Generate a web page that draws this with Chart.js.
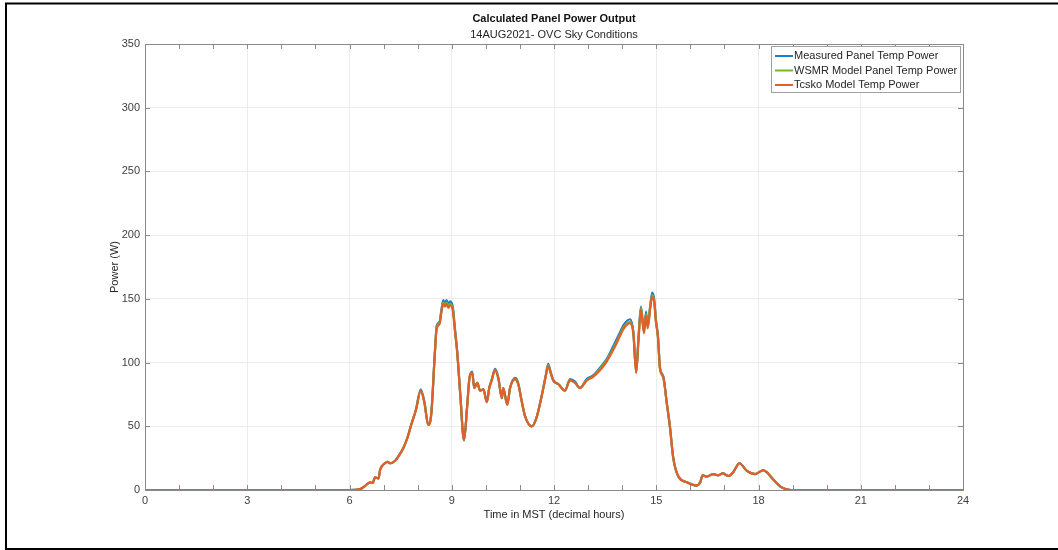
<!DOCTYPE html>
<html>
<head>
<meta charset="utf-8">
<title>Calculated Panel Power Output</title>
<script src="https://cdn.jsdelivr.net/npm/chart.js@4.4.1/dist/chart.umd.min.js"></script>
<style>
  body { margin: 0; background: #fff; }
  canvas { display: block; }
</style>
</head>
<body>
<canvas id="powerChart" width="1058" height="550"></canvas>
<script>
const ctx = document.getElementById("powerChart");

// time in MST (decimal hours)
const hours = [
  0, 6.0, 6.3, 6.45, 6.6, 6.68, 6.75, 6.85, 6.9, 7.04,
  7.12, 7.19, 7.34, 7.45, 7.58, 7.7, 7.82, 7.95, 8.09, 8.2,
  8.31, 8.4, 8.5, 8.56, 8.64, 8.7, 8.75, 8.8, 8.85, 8.9,
  8.95, 9.03, 9.1, 9.16, 9.25, 9.36, 9.45, 9.52, 9.6, 9.66,
  9.75, 9.83, 9.93, 10.03, 10.1, 10.17, 10.27, 10.37, 10.47, 10.51,
  10.63, 10.71, 10.86, 10.95, 11.05, 11.15, 11.35, 11.49, 11.64, 11.75,
  11.83, 11.9, 11.98, 12.13, 12.32, 12.47, 12.62, 12.76, 12.96, 13.15,
  13.35, 13.55, 13.74, 13.94, 14.03, 14.15, 14.23, 14.33, 14.41, 14.48,
  14.55, 14.64, 14.7, 14.75, 14.82, 14.88, 14.94, 14.99, 15.05, 15.11,
  15.21, 15.31, 15.4, 15.5, 15.65, 15.9, 16.19, 16.29, 16.36, 16.48,
  16.67, 16.82, 16.95, 17.12, 17.26, 17.44, 17.66, 17.9, 18.14, 18.24,
  18.44, 18.68, 18.83, 18.95, 24
];

// power (W)
const measured = [
  0, 0, 0.5, 3, 6, 5.5, 10, 9, 16, 21,
  22, 21, 23, 27, 33, 41, 52, 63, 79, 69,
  51, 60, 106, 129, 132, 142, 149, 147, 149, 146,
  148, 144, 125, 109, 75, 39, 65, 88, 93, 80,
  84, 78, 79, 69, 80, 86, 95, 88, 72, 80,
  67, 80, 88, 84, 70, 58, 50, 57, 74, 89,
  99, 93, 86, 83, 78, 87, 85, 80, 87, 90,
  96, 103, 113, 124, 129, 133, 134, 124, 93, 120,
  144, 125, 140, 129, 144, 155, 150, 134, 121, 96,
  89, 68, 50, 25, 10.5, 6, 3.5, 6, 11.5, 10.5,
  12.5, 11.5, 13, 11, 14, 21, 15, 12.5, 15.5, 14,
  8, 2, 0.5, 0, 0
];
const wsmrModel = [
  0, 0, 0.5, 3, 6, 5.5, 10, 9, 16, 21,
  22, 21, 23, 27, 33, 41, 52, 63, 78, 68,
  51, 60, 105, 128, 131, 141, 147, 145, 147, 144,
  146, 142, 124, 108, 75, 39, 65, 88, 92, 80,
  84, 78, 79, 69, 80, 86, 94, 87, 72, 80,
  67, 80, 87, 83, 70, 58, 50, 57, 74, 88,
  98, 92, 86, 83, 78, 86, 84, 80, 86, 89,
  95, 102, 111, 122, 127, 131, 132, 123, 92, 119,
  143, 124, 138, 128, 143, 153, 148, 133, 120, 95,
  88, 68, 50, 25, 10.5, 6, 3.5, 6, 11.5, 10.5,
  12.5, 11.5, 13, 11, 14, 21, 15, 12.5, 15.5, 14,
  8, 2, 0.5, 0, 0
];
const tcskoModel = [
  0, 0, 0.5, 3, 6, 5.5, 10, 9, 16, 21,
  22, 21, 23, 27, 33, 41, 52, 63, 78, 68,
  51, 60, 105, 127, 130, 140, 146, 144, 146, 143,
  145, 141, 123, 108, 75, 39, 65, 88, 92, 80,
  84, 78, 79, 69, 80, 86, 94, 87, 72, 80,
  67, 80, 87, 83, 70, 58, 50, 57, 74, 88,
  97, 92, 86, 83, 78, 86, 84, 80, 86, 89,
  94, 101, 110, 121, 126, 130, 131, 122, 92, 118,
  142, 123, 137, 127, 142, 152, 147, 132, 120, 95,
  88, 68, 50, 25, 10.5, 6, 3.5, 6, 11.5, 10.5,
  12.5, 11.5, 13, 11, 14, 21, 15, 12.5, 15.5, 14,
  8, 2, 0.5, 0, 0
];

const seriesNames = ['Measured Panel Temp Power', 'WSMR Model Panel Temp Power', 'Tcsko Model Temp Power'];
const seriesColors = ['rgb(28, 128, 200)', 'rgb(119, 180, 48)', 'rgb(226, 94, 42)'];
const xTicks = [0, 3, 6, 9, 12, 15, 18, 21, 24];
const yTicks = [0, 50, 100, 150, 200, 250, 300, 350];

function points(vals) {
  return hours.map((h, i) => ({ x: h, y: vals[i] }));
}

const FONT = "'Liberation Sans', Arial, Helvetica, sans-serif";

// frame, matlab style box with inward ticks, legend and titles
const matlabLook = {
  id: 'matlabLook',
  beforeDraw(chart) {
    const c = chart.ctx;
    c.save();
    c.fillStyle = '#fff';
    c.fillRect(0, 0, chart.width, chart.height);
    c.strokeStyle = '#000';
    c.lineWidth = 2;
    c.beginPath();
    c.moveTo(6, 550);
    c.lineTo(6, 3.5);
    c.lineTo(1058, 3.5);
    c.moveTo(6, 549);
    c.lineTo(1058, 549);
    c.stroke();
    c.restore();
  },
  afterDatasetsDraw(chart) {
    const c = chart.ctx;
    const a = chart.chartArea;
    const xs = chart.scales.x, ys = chart.scales.y;
    c.save();
    c.strokeStyle = '#8a8a8a';
    c.lineWidth = 1;
    c.strokeRect(Math.round(a.left) + 0.5, Math.round(a.top) + 0.5, Math.round(a.right - a.left), Math.round(a.bottom - a.top));
    c.beginPath();
    for (let h = 0; h <= 24; h++) {
      const px = Math.round(xs.getPixelForValue(h)) + 0.5;
      c.moveTo(px, a.bottom); c.lineTo(px, a.bottom - 5);
      c.moveTo(px, a.top); c.lineTo(px, a.top + 5);
    }
    yTicks.forEach(v => {
      const py = Math.round(ys.getPixelForValue(v)) + 0.5;
      c.moveTo(a.left, py); c.lineTo(a.left + 5, py);
      c.moveTo(a.right, py); c.lineTo(a.right - 5, py);
    });
    c.stroke();

    // legend box
    const lx = a.right - 192, ly = a.top + 2;
    c.fillStyle = '#fff';
    c.fillRect(lx, ly, 189, 46);
    c.strokeStyle = '#a0a0a0';
    c.strokeRect(lx + 0.5, ly + 0.5, 189, 46);
    c.font = '11px ' + FONT;
    c.textBaseline = 'middle';
    c.textAlign = 'left';
    seriesNames.forEach((name, i) => {
      const yy = ly + 10 + i * 14.5;
      c.strokeStyle = seriesColors[i];
      c.lineWidth = 2;
      c.beginPath();
      c.moveTo(lx + 4, yy); c.lineTo(lx + 22, yy);
      c.stroke();
      c.fillStyle = '#262626';
      c.fillText(name, lx + 23, yy);
    });

    // titles
    const cx = (a.left + a.right) / 2;
    c.textAlign = 'center';
    c.fillStyle = '#111';
    c.font = 'bold 11px ' + FONT;
    c.fillText('Calculated Panel Power Output', cx, 19);
    c.font = '11px ' + FONT;
    c.fillStyle = '#262626';
    c.fillText('14AUG2021- OVC Sky Conditions', cx, 35);
    c.restore();
  }
};

new Chart(ctx, {
  type: 'line',
  data: {
    datasets: [
      { label: seriesNames[0], data: points(measured), borderColor: seriesColors[0], order: 3 },
      { label: seriesNames[1], data: points(wsmrModel), borderColor: seriesColors[1], order: 2 },
      { label: seriesNames[2], data: points(tcskoModel), borderColor: seriesColors[2], order: 1 }
    ]
  },
  options: {
    responsive: false,
    animation: false,
    devicePixelRatio: 1,
    elements: {
      line: { borderWidth: 2.2, cubicInterpolationMode: 'monotone', borderCapStyle: 'round', borderJoinStyle: 'round' },
      point: { radius: 0 }
    },
    layout: { padding: { left: 0, right: 95, top: 44, bottom: 0 } },
    plugins: {
      legend: { display: false },
      tooltip: { enabled: false }
    },
    scales: {
      x: {
        type: 'linear',
        min: 0,
        max: 24,
        afterFit: s => { s.height = 60; },
        afterBuildTicks: s => { s.ticks = xTicks.map(v => ({ value: v })); },
        ticks: { color: '#404040', padding: 4, font: { size: 11, family: FONT } },
        grid: { color: '#ececec', drawTicks: false },
        border: { display: false },
        title: {
          display: true,
          text: 'Time in MST (decimal hours)',
          color: '#262626',
          font: { size: 11, family: FONT },
          padding: { top: 0, bottom: 28 }
        }
      },
      y: {
        min: 0,
        max: 350,
        afterFit: s => { s.width = 145; },
        afterBuildTicks: s => { s.ticks = yTicks.map(v => ({ value: v })); },
        ticks: { color: '#404040', padding: 5, font: { size: 11, family: FONT } },
        grid: { color: '#ececec', drawTicks: false },
        border: { display: false },
        title: {
          display: true,
          text: 'Power (W)',
          color: '#262626',
          font: { size: 11, family: FONT },
          padding: { top: 108, bottom: 0 }
        }
      }
    }
  },
  plugins: [matlabLook]
});
</script>
</body>
</html>
